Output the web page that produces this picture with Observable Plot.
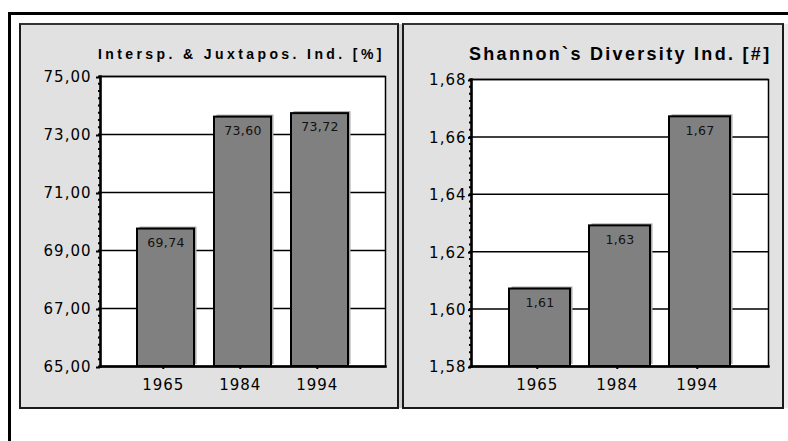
<!DOCTYPE html>
<html>
<head>
<meta charset="utf-8">
<script src="https://cdn.jsdelivr.net/npm/d3@7"></script>
<script src="https://cdn.jsdelivr.net/npm/@observablehq/plot@0.6"></script>
<style>
  html, body { margin: 0; padding: 0; background: #fff; }
  #wrap { position: relative; width: 788px; height: 441px; overflow: hidden; font-family: "Liberation Sans", Arial, sans-serif; }
  .abs { position: absolute; box-sizing: border-box; }
  .frame { left: 8px; top: 12px; width: 900px; height: 600px; border-top: 3px solid #000; border-left: 3px solid #000; }
  .panel { background: #e1e1e1; border: 2px solid #1a1a1a; border-top-color: #333; }
  .title { font-weight: bold; color: #000; white-space: nowrap; line-height: 1; }
  .p text { font-family: "DejaVu Sans", sans-serif; letter-spacing: 1px; }
  .p g[aria-label="text"] text { letter-spacing: 0.3px; }
</style>
</head>
<body>
<div id="wrap">
  <div class="abs frame"></div>
  <div class="abs panel" style="left:19px; top:23px; width:380px; height:386px;"></div>
  <div class="abs" style="left:399px; top:24px; width:3px; height:384px; background:#cfcfcf;"></div>
  <div class="abs panel" style="left:402px; top:23px; width:382px; height:386px;"></div>
  <div class="abs" style="left:784px; top:24px; width:6px; height:384px; background:#ececec;"></div>
  <div class="abs title" id="t1" style="left:98px; top:47px; font-size:14px; letter-spacing:3.4px;"></div>
  <div class="abs title" id="t2" style="left:469px; top:45px; font-size:18px; letter-spacing:2.3px;"></div>
  <div class="abs" id="c1" style="left:0px; top:0px;"></div>
  <div class="abs" id="c2" style="left:400px; top:0px;"></div>
</div>
<script>
// ---- data ----
const years = ["1965", "1984", "1994"];
const interspValues = [69.74, 73.60, 73.72];
const shannonValues = [1.607, 1.629, 1.667];
const interspTicks = [65, 67, 69, 71, 73, 75];
const shannonTicks = [1.58, 1.60, 1.62, 1.64, 1.66, 1.68];
const interspTitle = "Intersp. & Juxtapos. Ind. [%]";
const shannonTitle = "Shannon`s Diversity Ind. [#]";

document.getElementById("t1").textContent = interspTitle;
document.getElementById("t2").textContent = shannonTitle;

const fmt = d => d.toFixed(2).replace(".", ",");

function panel(values, ticks, o) {
  const data = years.map((year, i) => ({year, value: values[i]}));
  const lo = ticks[0], hi = ticks[ticks.length - 1];
  const step = (ticks[1] - ticks[0]) / 8;
  const minor = d3.range(lo, hi + step / 2, step);
  return Plot.plot({
    className: "p",
    width: o.width,
    height: 441,
    marginLeft: o.ml,
    marginRight: o.mr,
    marginTop: o.mt,
    marginBottom: 75,
    style: {background: "transparent", fontFamily: "'DejaVu Sans', sans-serif", fontSize: "15px", color: "#000", overflow: "visible"},
    x: {domain: years, paddingInner: o.pi, paddingOuter: o.po, label: null},
    y: {domain: [lo, hi], label: null},
    marks: [
      Plot.frame({fill: "white"}),
      Plot.gridY(ticks, {stroke: "black", strokeOpacity: 1, strokeWidth: 1.5}),
      Plot.barY(data, {x: "year", y1: lo, y2: "value", fill: "#a8a8a8", dx: 2.5, dy: -2}),
      Plot.barY(data, {x: "year", y1: lo, y2: "value", fill: "#808080", stroke: "black", strokeWidth: 2}),
      Plot.text(data, {x: "year", y: "value", text: d => fmt(d.value), lineAnchor: "top", dy: 9, fontSize: 12.5, fill: "#111"}),
      Plot.axisY(minor, {tickSize: 2, tickFormat: null, text: null, strokeWidth: 2}),
      Plot.axisY(ticks, {tickSize: o.ts, tickPadding: o.tp, tickFormat: fmt, strokeWidth: 2, dy: 1, fontSize: 15}),
      Plot.axisX({tickSize: 3, tickPadding: 10, strokeWidth: 2, dx: -2.7, fontSize: 15}),
      Plot.frame({stroke: "black", strokeWidth: 1.5}),
      Plot.frame({anchor: "left", stroke: "black", strokeWidth: 2.5}),
      Plot.frame({anchor: "bottom", stroke: "black", strokeWidth: 2.5})
    ]
  });
}

document.getElementById("c1").appendChild(
  panel(interspValues, interspTicks, {width: 400, ml: 100, mr: 15, mt: 76, pi: 0.26, po: 0.48, ts: 4, tp: 5})
);
document.getElementById("c2").appendChild(
  panel(shannonValues, shannonTicks, {width: 388, ml: 71, mr: 20, mt: 79, pi: 0.24, po: 0.476, ts: 3, tp: 2})
);
</script>
</body>
</html>
